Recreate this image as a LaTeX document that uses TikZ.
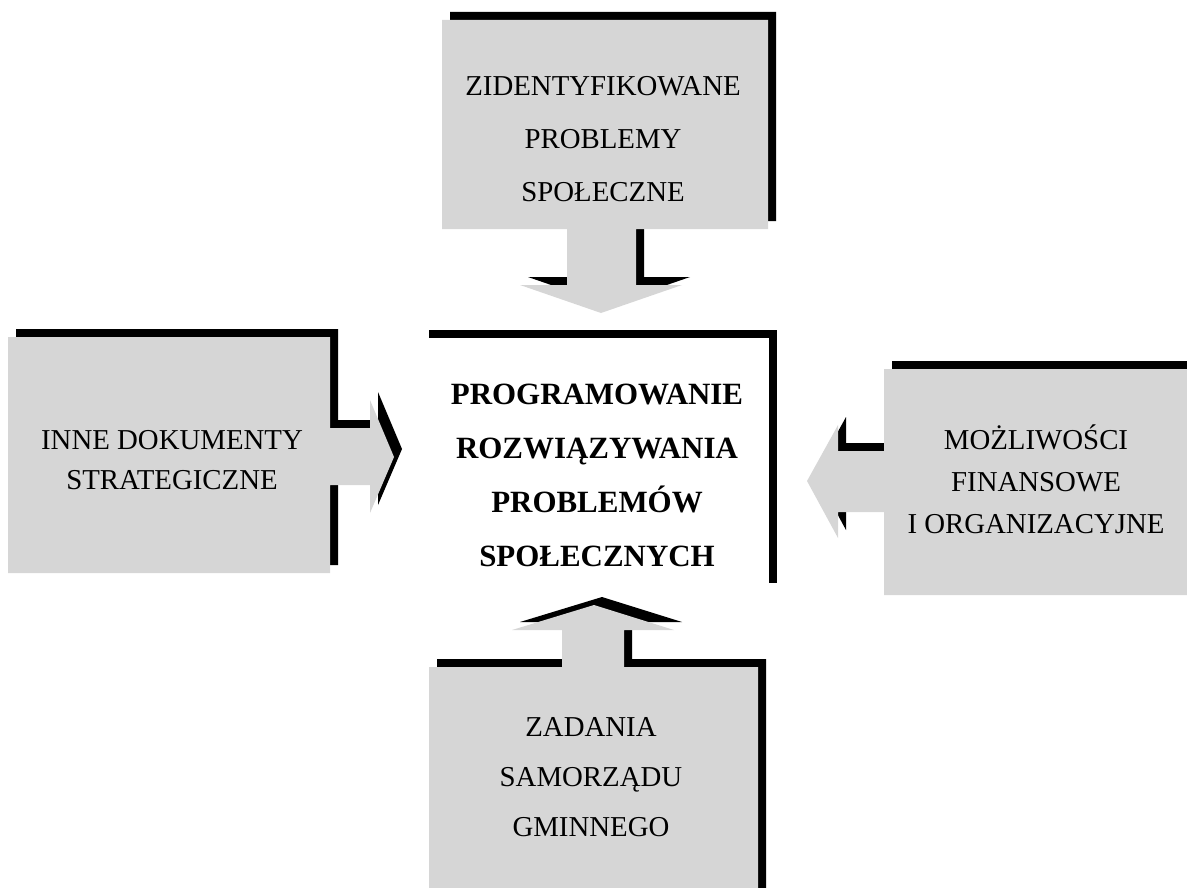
\documentclass[tikz,border=0pt]{standalone}
\usepackage{fontspec}
\setmainfont{Liberation Serif}
\newcommand{\shadowed}[2]{\fill[shadowfill] #2; \fill[#1] #2;}
\begin{document}
\begin{tikzpicture}[x=0.025cm, y=-0.025cm,
    greyfill/.style={fill=black!16},
    shadowfill/.style={fill=black, shift={(8,-8)}},
    boxtext/.style={align=center, font=\fontsize{20.5}{#1}\selectfont}]
  \useasboundingbox (0,0) rectangle (1187,887);
  \clip (0,0) rectangle (1187,887);
  \shadowed{greyfill}{(442,20) -- (768,20) -- (768,229) -- (636,229) -- (636,285) -- (682,285) -- (601,313) -- (520,285) -- (567,285) -- (567,229) -- (442,229) -- cycle}
  \shadowed{greyfill}{(8,337) -- (330,337) -- (330,428) -- (370,428) -- (370,400) -- (394,457) -- (370,513) -- (370,485) -- (330,485) -- (330,573) -- (8,573) -- cycle}
  \shadowed{greyfill}{(884,369) -- (1200,369) -- (1200,595) -- (884,595) -- (884,512) -- (838,512) -- (838,538) -- (807,481) -- (838,425) -- (838,451) -- (884,451) -- cycle}
  \shadowed{greyfill}{(429,667) -- (562,667) -- (562,630) -- (512,630) -- (594,605) -- (674,630) -- (624,630) -- (624,667) -- (758,667) -- (758,900) -- (429,900) -- cycle}
  \shadowed{fill=white}{(421,338) rectangle (769,591)}
  \node[boxtext=37.7] (problemy) at (603,139) {ZIDENTYFIKOWANE\\PROBLEMY\\SPOŁECZNE};
  \node[boxtext=28.4] (dokumenty) at (172,460) {INNE DOKUMENTY\\STRATEGICZNE};
  \node[boxtext=29.9] (mozliwosci) at (1036,479) {MOŻLIWOŚCI\\FINANSOWE\\I ORGANIZACYJNE};
  \node[boxtext=35.5] (zadania) at (591,777) {ZADANIA\\SAMORZĄDU\\GMINNEGO};
  \node[align=center, font=\fontsize{22}{38.4}\selectfont\bfseries] (program) at (597,475) {PROGRAMOWANIE\\ROZWIĄZYWANIA\\PROBLEMÓW\\SPOŁECZNYCH};
\end{tikzpicture}
\end{document}
